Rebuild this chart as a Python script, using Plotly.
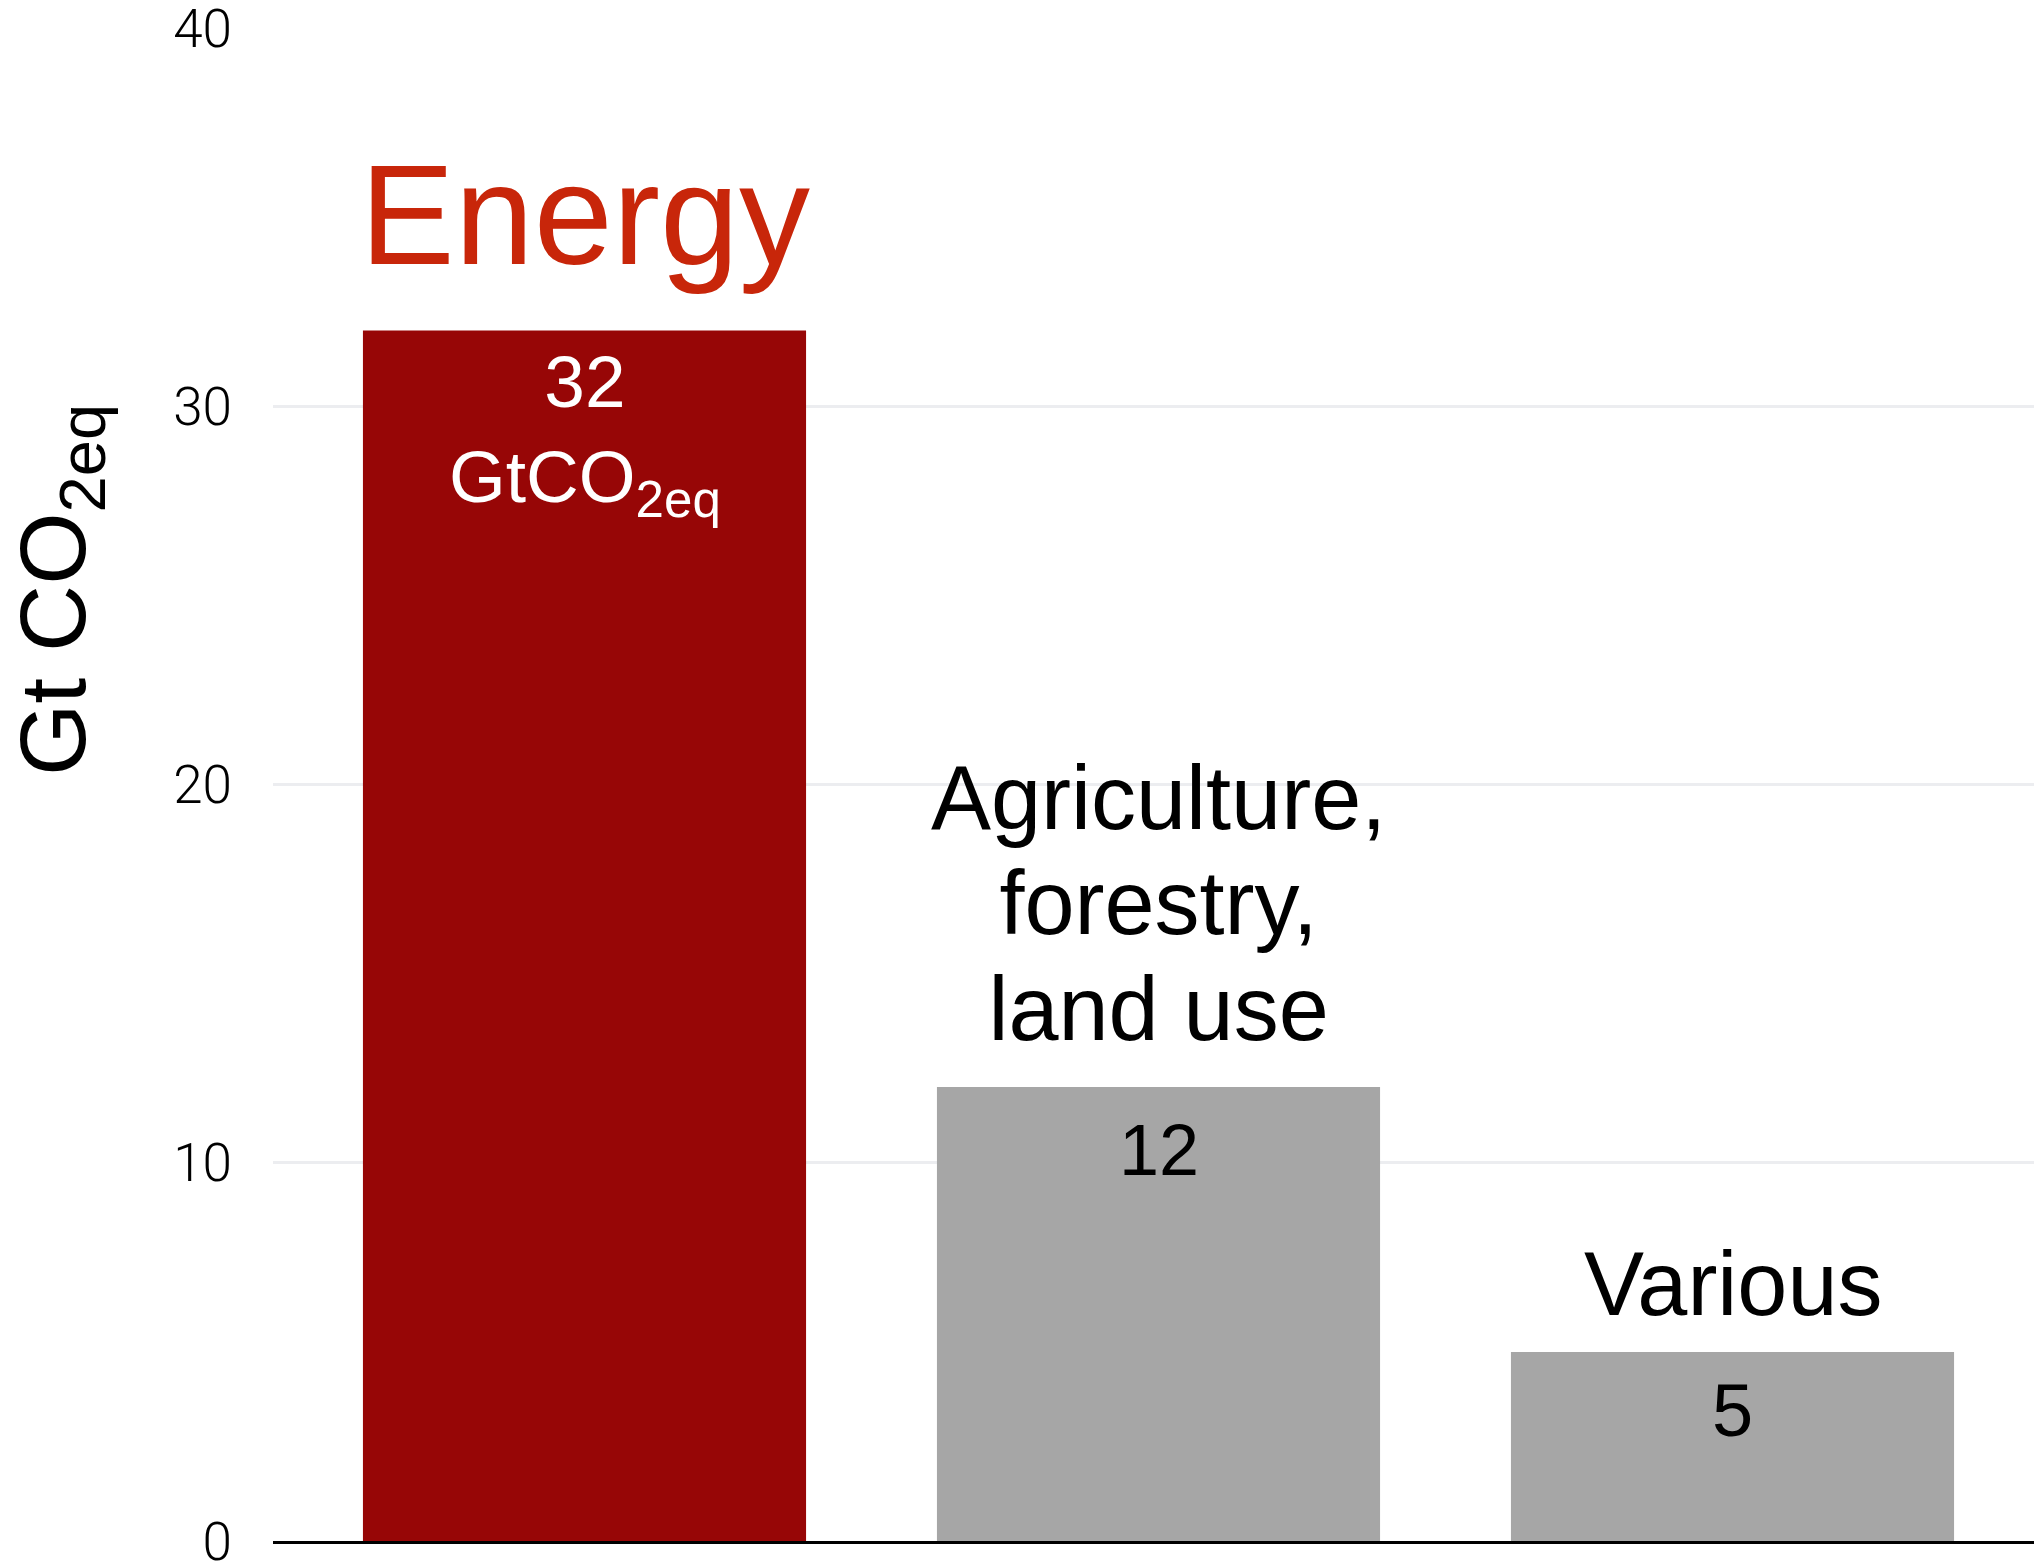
import plotly.graph_objects as go

# Emissions by sector, Gt CO2-equivalent
sectors = ["Energy", "Agriculture, forestry, land use", "Various"]
values = [32, 12, 5]
bar_colors = ["#970606", "#A6A6A6", "#A6A6A6"]

# Text drawn above each bar (one entry per line) and inside it
head_lines = [["Energy"], ["Agriculture,", "forestry,", "land use"], ["Various"]]
head_colors = ["#C8260A", "#000000", "#000000"]
head_sizes = [142, 90, 90]
head_pitch = [142, 81, 90]   # font size that sets the line spacing
head_shift = [116, 184, 68]

value_labels = ["32<br>GtCO<sub>2eq</sub>", "12", "5"]
value_colors = ["#FFFFFF", "#000000", "#000000"]
value_sizes = [73, 72, 74]
value_shift = [-104, -63, -59]

y_ticks = [0, 10, 20, 30, 40]

W, H = 2034, 1565
ML, MR, MT, MB = 273, 0, 28, 24
plot_w = W - ML - MR
plot_h = H - MT - MB
slot = 574  # pixel distance between category centres
x_lo = -(584.5 - ML) / slot
x_hi = x_lo + plot_w / slot

fig = go.Figure(
    go.Bar(
        x=sectors,
        y=values,
        marker=dict(color=bar_colors, line=dict(width=0)),
        hoverinfo="skip",
    )
)

label_font = "Liberation Sans, Arial, Helvetica, sans-serif"

for name, v, lines, col, fs, pitch, sh in zip(
    sectors, values, head_lines, head_colors, head_sizes, head_pitch, head_shift
):
    txt = "<br>".join(f"<span style='font-size:{fs}px'>{ln}</span>" for ln in lines)
    fig.add_annotation(
        x=name, y=v, text=txt, showarrow=False,
        xanchor="center", yanchor="middle", yshift=sh,
        font=dict(family=label_font, size=pitch, color=col),
        align="center",
    )

for name, v, txt, col, fs, sh in zip(sectors, values, value_labels, value_colors, value_sizes, value_shift):
    fig.add_annotation(
        x=name, y=v, text=txt, showarrow=False,
        xanchor="center", yanchor="middle", yshift=sh,
        font=dict(family=label_font, size=fs, color=col),
        align="center",
    )

# Rotated y-axis title
fig.add_annotation(
    xref="paper", yref="paper",
    x=(60 - ML) / plot_w, y=(H - MB - 590) / plot_h,
    text="Gt CO<sub>2eq</sub>", textangle=-90, showarrow=False,
    xanchor="center", yanchor="middle",
    font=dict(family=label_font, size=93, color="#000000"),
)

fig.update_layout(
    width=W, height=H,
    margin=dict(l=ML, r=MR, t=MT, b=MB, pad=0, autoexpand=False),
    paper_bgcolor="white", plot_bgcolor="white",
    bargap=0.228,
    showlegend=False,
    xaxis=dict(
        range=[x_lo, x_hi], automargin=False,
        showticklabels=False, ticks="",
        showgrid=False, zeroline=False,
        showline=True, linecolor="#000000", linewidth=3,
    ),
    yaxis=dict(
        range=[0, 40], automargin=False,
        tickvals=y_ticks,
        ticks="", ticklabelstandoff=40, ticklabeloverflow="allow",
        tickfont=dict(family="Roboto, Liberation Sans, sans-serif", size=53, color="#000000", weight=300),
        showgrid=True, gridcolor="#ECEDF0", gridwidth=3,
        zeroline=False, showline=False,
    ),
)

fig.write_html("out.html")
